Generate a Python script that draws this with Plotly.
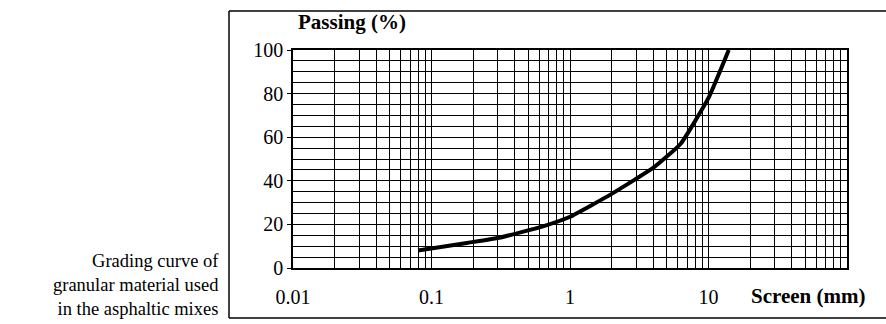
import plotly.graph_objects as go

# Grading curve: sieve opening (mm) vs cumulative passing (%)
screen_mm = [0.08, 0.18, 0.315, 0.63, 1.0, 2.0, 4.0, 6.3, 10.0, 14.0]
passing_pct = [8, 11.5, 14, 19, 23.5, 34, 46, 57, 78, 100]

x_major = [0.01, 0.1, 1, 10, 100]
x_major_labels = ["0.01", "0.1", "1", "10", ""]
y_major = [0, 20, 40, 60, 80, 100]

x_minor = [m * d for d in (0.01, 0.1, 1, 10) for m in range(2, 10)]
y_minor = list(range(0, 101, 5))

W, H = 886, 324
L, R, T, B = 293, 39, 50, 56
pw, ph = W - L - R, H - T - B

FONT = "Liberation Serif, Times New Roman, serif"

fig = go.Figure()
fig.add_trace(go.Scatter(
    x=screen_mm, y=passing_pct, mode="lines",
    line=dict(color="black", width=4, shape="spline", smoothing=0.4),
    showlegend=False, hoverinfo="x+y",
))

grid = dict(showgrid=True, gridcolor="black", gridwidth=1.2)
fig.update_xaxes(
    type="log", range=[-2, 2],
    tickmode="array", tickvals=x_major, ticktext=x_major_labels,
    ticks="", ticklen=0, zeroline=False, ticklabelstandoff=10,
    showline=True, linecolor="black", linewidth=1.5, mirror=True,
    tickfont=dict(family=FONT, size=20, color="black"),
    minor=dict(tickmode="array", tickvals=x_minor, showgrid=True,
               gridcolor="black", gridwidth=1.2, ticks=""),
    **grid,
)
fig.update_yaxes(
    range=[0, 100],
    tickmode="array", tickvals=y_major, ticktext=[str(v) for v in y_major],
    ticks="outside", ticklen=4, tickcolor="black", zeroline=False,
    showline=True, linecolor="black", linewidth=1.5, mirror=True,
    tickfont=dict(family=FONT, size=20, color="black"),
    minor=dict(tickmode="array", tickvals=y_minor, showgrid=True,
               gridcolor="black", gridwidth=1.2, ticks=""),
    **grid,
)

def px_x(p):
    return (p - L) / pw

def px_y(p):
    return (H - B - p) / ph

# Outer frame around the figure (open on the right)
frame = dict(type="line", xref="paper", yref="paper",
             line=dict(color="black", width=1.5))
fig.add_shape(x0=px_x(229), x1=px_x(886), y0=px_y(11), y1=px_y(11), **frame)
fig.add_shape(x0=px_x(229), x1=px_x(229), y0=px_y(11), y1=px_y(318), **frame)
fig.add_shape(x0=px_x(229), x1=px_x(886), y0=px_y(318), y1=px_y(318), **frame)

fig.add_annotation(text="<b>Passing (%)</b>", xref="paper", yref="paper",
                   x=px_x(296), y=px_y(22), xanchor="left", yanchor="middle",
                   showarrow=False, font=dict(family=FONT, size=21, color="black"))
fig.add_annotation(text="<b>Screen (mm)</b>", xref="paper", yref="paper",
                   x=px_x(749), y=px_y(296), xanchor="left", yanchor="middle",
                   showarrow=False, font=dict(family=FONT, size=21, color="black"))
fig.add_annotation(text="Grading curve of<br>granular material used<br>in the asphaltic mixes",
                   xref="paper", yref="paper", x=px_x(221), y=px_y(285),
                   xanchor="right", yanchor="middle", align="right",
                   showarrow=False, font=dict(family=FONT, size=18.5, color="black"))

fig.update_layout(
    width=W, height=H,
    margin=dict(l=L, r=R, t=T, b=B),
    paper_bgcolor="white", plot_bgcolor="white",
)

fig.write_html("out.html")
